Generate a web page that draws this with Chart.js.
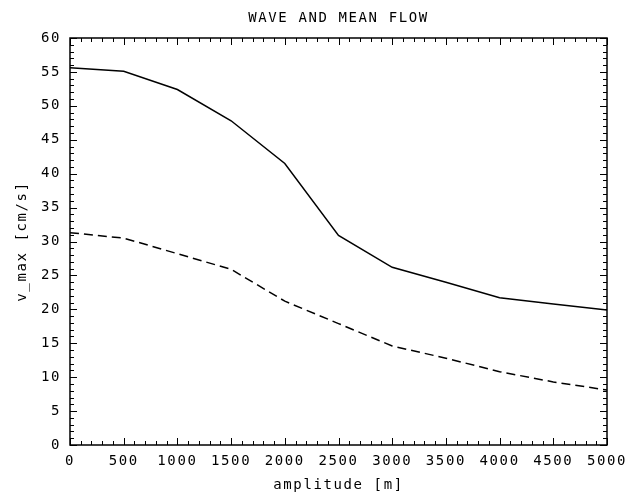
<!DOCTYPE html>
<html><head><meta charset="utf-8">
<script src="https://cdn.jsdelivr.net/npm/chart.js@4.4.1/dist/chart.umd.min.js"></script>
<style>html,body{margin:0;padding:0;background:#fff}#wrap{width:640px;height:495px}</style>
</head><body><div id="wrap"><canvas id="c" width="640" height="495"></canvas></div>
<script>
const amplitude = [0, 500, 1000, 1500, 2000, 2500, 3000, 3500, 4000, 4500, 5000];
const vmaxSolid = [55.6, 55.1, 52.4, 47.8, 41.5, 30.9, 26.2, 24.0, 21.7, 20.8, 19.9];
const vmaxDashed = [31.3, 30.5, 28.2, 25.9, 21.2, 17.9, 14.6, 12.8, 10.8, 9.3, 8.1];
const xTickLabels = [0, 500, 1000, 1500, 2000, 2500, 3000, 3500, 4000, 4500, 5000];
const yTickLabels = [0, 5, 10, 15, 20, 25, 30, 35, 40, 45, 50, 55, 60];
const xMinorStep = 100, yMinorStep = 1;
const chartTitle = 'WAVE AND MEAN FLOW';

const FONT = "'DejaVu Sans Mono', monospace";
const LETTER_SPACING = '1.6px';

const spacing = {
  id: 'spacing',
  beforeUpdate(chart) { chart.ctx.letterSpacing = LETTER_SPACING; },
  beforeLayout(chart) { chart.ctx.letterSpacing = LETTER_SPACING; },
  beforeDraw(chart) { chart.ctx.letterSpacing = LETTER_SPACING; }
};

const plotTitle = {
  id: 'plotTitle',
  afterDraw(chart) {
    const {ctx, chartArea: a} = chart;
    ctx.save();
    ctx.letterSpacing = LETTER_SPACING;
    ctx.font = "14px " + FONT;
    ctx.fillStyle = '#000';
    ctx.textAlign = 'center';
    ctx.textBaseline = 'middle';
    ctx.fillText(chartTitle, (a.left + a.right) / 2, 18);
    ctx.restore();
  }
};

const frameTicks = {
  id: 'frameTicks',
  afterDatasetsDraw(chart) {
    const {ctx, chartArea: a, scales: {x, y}} = chart;
    ctx.save();
    ctx.strokeStyle = '#000';
    ctx.lineWidth = 1;
    ctx.beginPath();
    const xMax = xTickLabels[xTickLabels.length - 1];
    for (let v = 0; v <= xMax + 1e-9; v += xMinorStep) {
      const px = Math.round(x.getPixelForValue(v)) + 0.5;
      const L = (v % 500 === 0) ? 7 : 4;
      ctx.moveTo(px, a.bottom); ctx.lineTo(px, a.bottom - L);
      ctx.moveTo(px, a.top); ctx.lineTo(px, a.top + L);
    }
    const yMax = yTickLabels[yTickLabels.length - 1];
    for (let v = 0; v <= yMax + 1e-9; v += yMinorStep) {
      const py = Math.round(y.getPixelForValue(v)) + 0.5;
      const L = (v % 5 === 0) ? 7 : 4;
      ctx.moveTo(a.left, py); ctx.lineTo(a.left + L, py);
      ctx.moveTo(a.right, py); ctx.lineTo(a.right - L, py);
    }
    ctx.stroke();
    ctx.lineWidth = 1.5;
    ctx.strokeRect(a.left, a.top, a.right - a.left, a.bottom - a.top);
    ctx.restore();
  }
};

new Chart(document.getElementById('c'), {
  type: 'line',
  data: {
    datasets: [
      {
        label: 'solid',
        data: amplitude.map((a, i) => ({x: a, y: vmaxSolid[i]})),
        borderColor: '#000', borderWidth: 1.5, pointRadius: 0, tension: 0, fill: false
      },
      {
        label: 'dashed',
        data: amplitude.map((a, i) => ({x: a, y: vmaxDashed[i]})),
        borderColor: '#000', borderWidth: 1.5, borderDash: [9, 5], pointRadius: 0, tension: 0, fill: false
      }
    ]
  },
  options: {
    responsive: false,
    animation: false,
    devicePixelRatio: 1,
    layout: {padding: {top: 38, right: 33, left: 0, bottom: 0}},
    plugins: {
      legend: {display: false},
      tooltip: {enabled: false},
      title: {display: false}
    },
    scales: {
      x: {
        type: 'linear',
        min: 0, max: 5000,
        afterBuildTicks: s => { s.ticks = xTickLabels.map(v => ({value: v})); },
        afterFit: s => { s.height = 50; },
        grid: {display: false, drawTicks: false},
        border: {display: false},
        ticks: {color: '#000', padding: 8, maxRotation: 0, autoSkip: false,
          callback: v => String(v),
          font: {family: FONT, size: 14}},
        title: {display: true, text: 'amplitude [m]', color: '#000',
          font: {family: FONT, size: 14}, padding: {top: 0, bottom: 1}}
      },
      y: {
        type: 'linear',
        min: 0, max: 60,
        afterBuildTicks: s => { s.ticks = yTickLabels.map(v => ({value: v})); },
        afterFit: s => { s.width = 70; },
        grid: {display: false, drawTicks: false},
        border: {display: false},
        ticks: {color: '#000', padding: 9, autoSkip: false,
          callback: v => String(v),
          font: {family: FONT, size: 14}},
        title: {display: true, text: 'v_max [cm/s]', color: '#000',
          font: {family: FONT, size: 14}, padding: {top: 14, bottom: 0}}
      }
    }
  },
  plugins: [spacing, frameTicks, plotTitle]
});
</script></body></html>
